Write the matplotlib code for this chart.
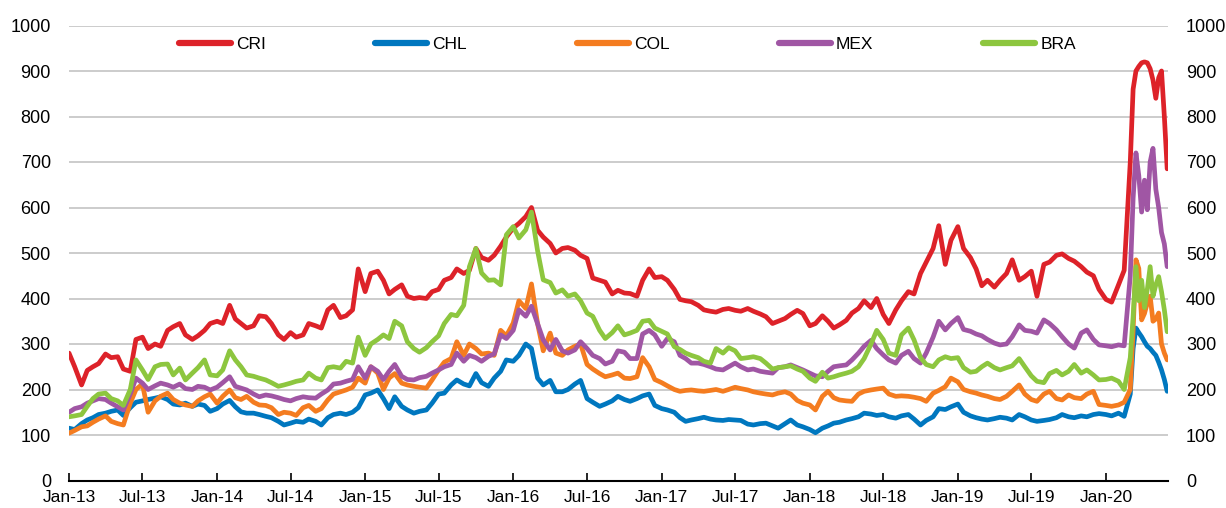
import matplotlib
matplotlib.use("Agg")
import matplotlib.pyplot as plt
import matplotlib.dates as mdates
import pandas as pd

plt.rcParams["font.family"] = ["Liberation Sans", "DejaVu Sans"]

# semi-monthly points up to Feb-20, then weekly through the Covid spike
dates = pd.date_range("2013-01-01", "2020-02-15", freq="SMS").append(
    pd.date_range("2020-03-01", "2020-05-31", freq="7D"))

cri = [280, 250, 210, 242, 250, 257, 278, 270, 272, 245, 240, 310, 315, 290, 300, 295, 330, 338, 345, 320, 310, 318, 330, 345,
       350, 345, 385, 355, 345, 335, 340, 362, 360, 345, 320, 310, 325, 315, 320, 345, 340, 335, 375, 385, 358, 362, 375, 465,
       415, 455, 460, 440, 410, 420, 430, 405, 400, 402, 400, 415, 420, 440, 446, 465, 455, 462, 510, 490, 484, 495, 515, 535,
       555, 565, 580, 600, 550, 535, 521, 500, 510, 512, 506, 495, 488, 445, 440, 436, 410, 418, 412, 411, 405, 440, 465, 446,
       448, 440, 420, 398, 395, 393, 385, 375, 372, 370, 376, 378, 374, 372, 378, 372, 366, 360, 345, 350, 356, 365, 374, 367,
       340, 345, 362, 350, 335, 342, 352, 368, 378, 395, 380, 400, 365, 345, 375, 395, 415, 410, 455, 480, 510, 560, 475, 528,
       558, 510, 490, 465, 428, 440, 425, 440, 455, 485, 440, 448, 460, 405, 475, 480, 495, 498, 488, 482, 470, 458, 450, 420,
       398, 392, 430, 462,
       700, 860, 900, 910, 918, 920, 918, 905, 880, 840, 885, 900, 800, 685]

chl = [115, 112, 125, 133, 138, 145, 148, 152, 155, 143, 160, 172, 175, 178, 181, 184, 178, 168, 166, 170, 163, 168, 165, 152,
       158, 168, 176, 162, 151, 148, 148, 145, 141, 138, 130, 122, 126, 130, 128, 135, 130, 122, 138, 145, 148, 145, 150, 160,
       188, 192, 199, 180, 158, 184, 163, 155, 148, 152, 155, 170, 190, 192, 210, 221, 212, 208, 235, 215, 207, 225, 240, 265,
       262, 275, 300, 290, 225, 210, 220, 195, 195, 200, 212, 220, 180, 172, 163, 168, 175, 185, 178, 174, 180, 186, 190, 165,
       158, 155, 150, 138, 130, 133, 136, 139, 135, 133, 132, 134, 133, 132, 124, 122, 125, 126, 120, 115, 125, 133, 122, 118,
       112, 105, 115, 120, 126, 128, 133, 136, 140, 148, 146, 143, 145, 140, 137, 142, 145, 135, 122, 132, 140, 158, 156, 162,
       168, 150, 142, 138, 135, 133, 136, 139, 137, 133, 145, 140, 133, 130, 132, 134, 138, 145, 140, 138, 142, 140, 145, 147,
       145, 142, 148, 141,
       190, 290, 335, 325, 316, 305, 295, 290, 282, 275, 260, 243, 222, 196]

col = [104, 110, 118, 120, 128, 135, 142, 130, 125, 122, 170, 200, 212, 150, 175, 185, 192, 178, 170, 166, 163, 175, 184, 190,
       170, 185, 199, 182, 178, 185, 172, 166, 165, 160, 145, 150, 148, 143, 160, 165, 152, 158, 177, 190, 195, 199, 205, 225,
       214, 250, 236, 200, 225, 235, 214, 210, 207, 205, 203, 221, 243, 260, 268, 305, 275, 300, 290, 278, 280, 275, 330, 318,
       346, 395, 378, 432, 345, 285, 324, 280, 275, 287, 295, 300, 255, 245, 235, 228, 232, 236, 225, 224, 228, 270, 250, 222,
       215, 208, 200, 196, 198, 199, 197, 196, 198, 200, 196, 200, 205, 202, 199, 195, 192, 190, 188, 192, 195, 190, 176, 170,
       166, 155, 185, 196, 182, 177, 175, 174, 190, 196, 199, 201, 203, 190, 185, 186, 185, 183, 180, 174, 192, 198, 206, 225,
       217, 200, 195, 192, 188, 185, 180, 178, 185, 196, 210, 190, 178, 174, 190, 196, 180, 177, 188, 182, 180, 190, 196, 167,
       165, 163, 166, 172,
       200, 330, 485, 466, 353, 367, 390, 405, 350, 355, 368, 300, 280, 265]

mex = [150, 158, 162, 170, 175, 180, 178, 170, 162, 155, 190, 225, 214, 200, 208, 214, 210, 205, 212, 202, 200, 207, 205, 199,
       205, 215, 228, 207, 203, 199, 190, 184, 188, 186, 182, 178, 175, 180, 184, 182, 181, 190, 199, 212, 214, 218, 222, 250,
       225, 250, 240, 222, 240, 255, 229, 222, 221, 226, 229, 236, 243, 250, 255, 280, 262, 275, 270, 262, 273, 278, 320, 312,
       330, 375, 361, 383, 345, 309, 287, 310, 285, 280, 287, 305, 290, 275, 268, 256, 262, 285, 282, 268, 268, 322, 330, 320,
       295, 312, 305, 275, 268, 258, 258, 255, 250, 245, 243, 250, 258, 250, 243, 245, 240, 238, 236, 248, 250, 254, 248, 243,
       236, 230, 228, 240, 250, 252, 254, 265, 280, 295, 308, 290, 276, 265, 258, 275, 284, 268, 258, 280, 315, 350, 331, 345,
       358, 332, 328, 322, 318, 310, 302, 298, 300, 316, 342, 330, 328, 324, 353, 345, 331, 316, 300, 291, 324, 331, 310, 298,
       296, 294, 298, 296,
       450, 620, 720, 670, 590, 660, 595, 700, 730, 640, 600, 545, 520, 470]

bra = [140, 142, 145, 163, 180, 190, 192, 180, 175, 165, 200, 265, 243, 222, 250, 255, 256, 232, 247, 221, 236, 248, 265, 232,
       230, 243, 285, 265, 250, 232, 229, 225, 221, 215, 207, 210, 214, 218, 221, 236, 225, 221, 248, 250, 247, 262, 258, 315,
       275, 300, 310, 320, 312, 350, 340, 305, 290, 282, 292, 305, 318, 345, 365, 362, 385, 470, 510, 456, 440, 441, 430, 540,
       558, 533, 551, 590, 505, 441, 435, 412, 419, 405, 410, 395, 368, 361, 330, 312, 325, 340, 320, 324, 330, 350, 352, 335,
       328, 322, 294, 288, 280, 275, 270, 262, 258, 290, 280, 292, 285, 268, 270, 272, 268, 258, 245, 248, 250, 252, 245, 240,
       225, 218, 238, 225, 228, 232, 236, 240, 250, 268, 300, 330, 310, 280, 275, 320, 335, 309, 270, 255, 250, 265, 272, 268,
       270, 248, 238, 240, 250, 258, 248, 243, 248, 252, 268, 250, 230, 218, 215, 235, 242, 232, 240, 255, 236, 243, 232, 221,
       222, 225, 218, 200,
       270, 360, 470, 395, 440, 380, 420, 470, 405, 430, 448, 415, 375, 327]

names = ["CRI", "CHL", "COL", "MEX", "BRA"]
series = [cri, chl, col, mex, bra]
colors = ["#DD2229", "#0077BF", "#F47C20", "#A056A4", "#8DC63F"]

fig = plt.figure(figsize=(12.26, 5.08), dpi=100)
ax = fig.add_axes([69 / 1226, 27.5 / 508, 1099 / 1226, 455 / 508])

for name, vals, c in zip(names, series, colors):
    assert len(vals) == len(dates), (name, len(vals))
    ax.plot(dates, vals, color=c, lw=3.4, label=name, solid_capstyle="round", solid_joinstyle="round")

ax.set_ylim(0, 1000)
ax.set_yticks(range(0, 1001, 100))
ax.set_xlim(pd.Timestamp("2013-01-01"), pd.Timestamp("2020-06-02"))
ax.xaxis.set_major_locator(mdates.MonthLocator(bymonth=[1, 7]))
ax.xaxis.set_major_formatter(mdates.DateFormatter("%b-%y"))
ax.grid(axis="y", color="#C8C8C8", lw=1.3)
ax.set_axisbelow(True)
for s in ["left", "right", "top"]:
    ax.spines[s].set_visible(False)
ax.spines["bottom"].set_linewidth(1.5)
ax.tick_params(axis="x", direction="in", length=6, width=1.2, labelsize=12.5, pad=7)
ax.tick_params(axis="y", length=0, labelsize=13, pad=13)

ax2 = ax.twinx()
ax2.set_ylim(0, 1000)
ax2.set_yticks(range(0, 1001, 100))
for s in ["left", "right", "top", "bottom"]:
    ax2.spines[s].set_visible(False)
ax2.tick_params(axis="y", length=0, labelsize=13, pad=13)

leg = ax.legend(loc="upper center", bbox_to_anchor=(0.508, 0.975), ncol=5, frameon=False,
                fontsize=12.5, handlelength=3.0, handletextpad=0.3, columnspacing=6.3,
                borderpad=0, borderaxespad=0)
for h in leg.get_lines():
    h.set_linewidth(4.5)

fig.savefig("out.png", dpi=100)
